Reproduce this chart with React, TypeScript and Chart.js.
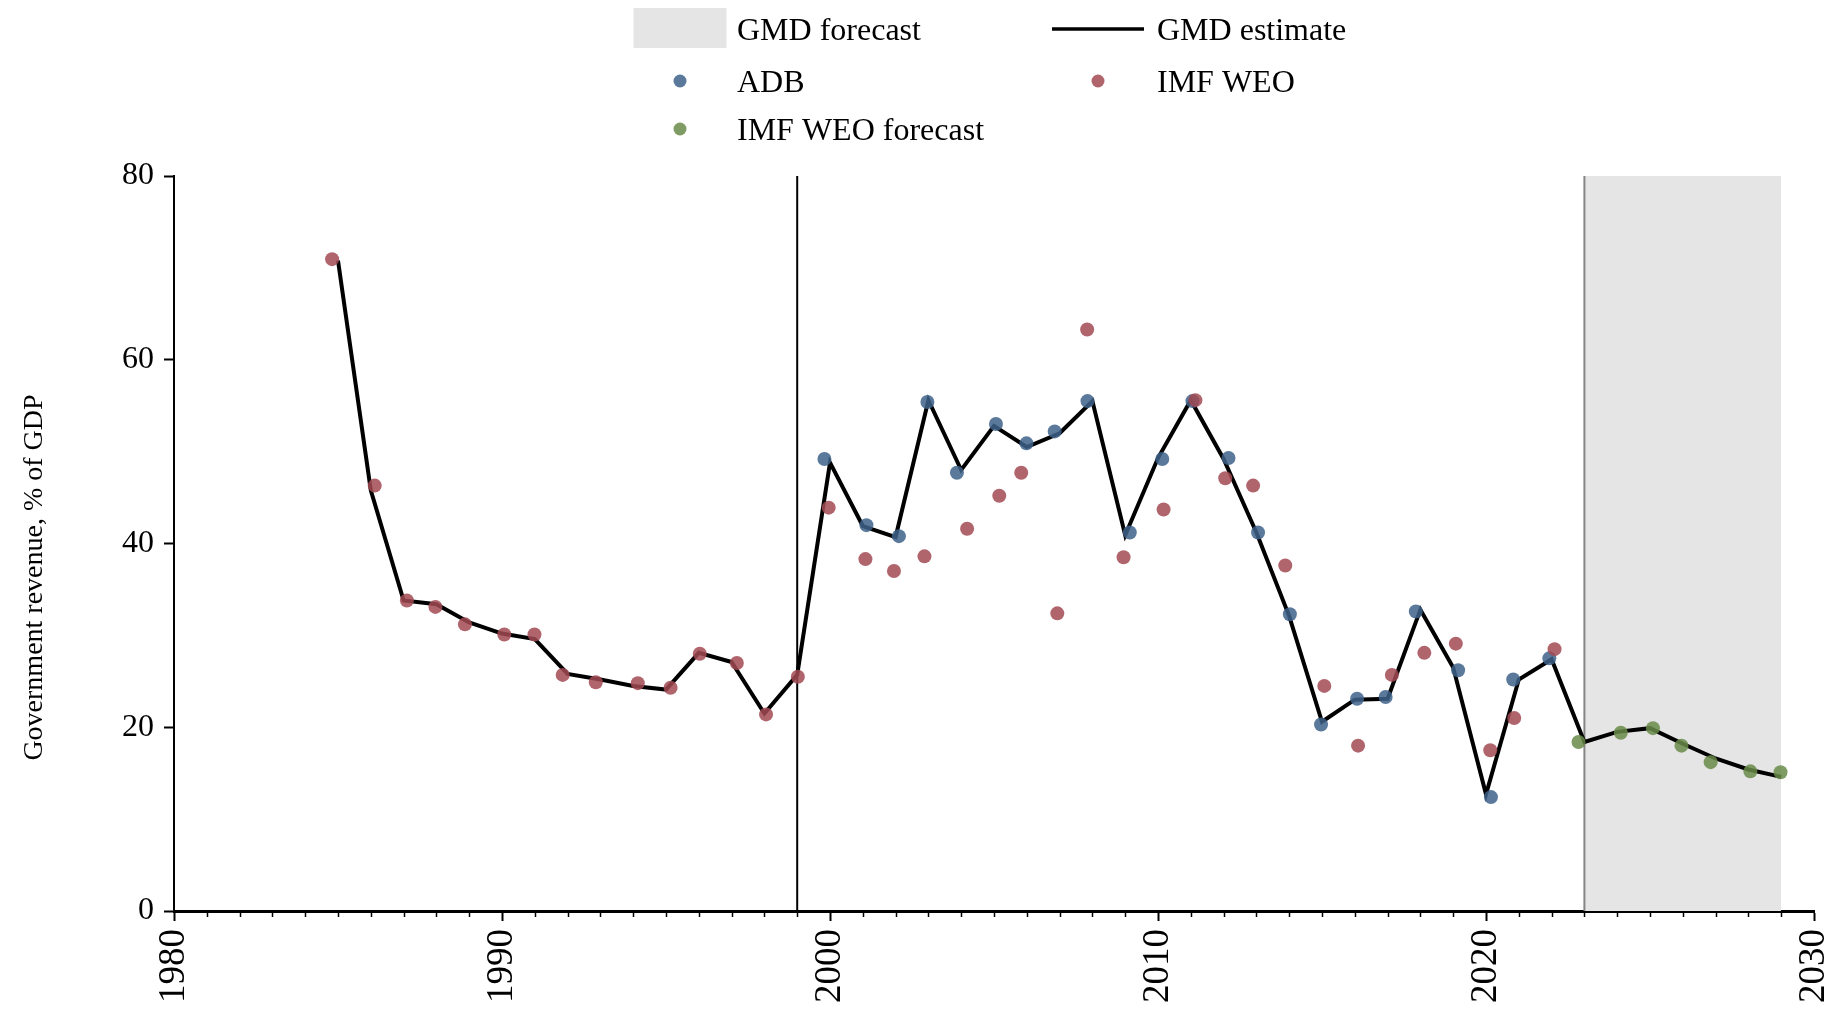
import React, { useEffect, useRef } from "react";
import { Chart, registerables } from "chart.js";

Chart.register(...registerables);

const FONT = "'Liberation Serif', serif";

// ---- Data ----
const gmdYears = [
  1985, 1986, 1987, 1988, 1989, 1990, 1991, 1992, 1993, 1994, 1995, 1996, 1997, 1998, 1999,
  2000, 2001, 2002, 2003, 2004, 2005, 2006, 2007, 2008, 2009, 2010, 2011, 2012, 2013, 2014,
  2015, 2016, 2017, 2018, 2019, 2020, 2021, 2022, 2023, 2024, 2025, 2026, 2027, 2028, 2029,
];
const gmdEstimate = [
  70.8, 45.8, 33.8, 33.4, 31.4, 30.2, 29.6, 25.8, 25.2, 24.5, 24.1, 28.1, 27.1, 21.5, 25.7,
  48.8, 41.9, 40.7, 55.6, 48.0, 52.8, 50.5, 52.0, 55.5, 40.9, 49.3, 55.6, 49.2, 41.2, 32.1,
  20.6, 23.0, 23.1, 32.8, 26.5, 12.7, 25.2, 27.4, 18.4, 19.5, 19.9, 18.2, 16.6, 15.4, 14.6,
];

const adbYears = [
  1999.83, 2001.11, 2002.1, 2002.97, 2003.87, 2005.06, 2005.99, 2006.85, 2007.85, 2009.14,
  2010.13, 2011.05, 2012.15, 2013.05, 2014.02, 2014.97, 2016.07, 2016.94, 2017.86, 2019.15,
  2020.15, 2020.83, 2021.93,
];
const adbValues = [
  49.2, 42.0, 40.8, 55.4, 47.7, 53.0, 50.9, 52.2, 55.5, 41.2,
  49.2, 55.5, 49.3, 41.2, 32.3, 20.3, 23.1, 23.3, 32.6, 26.2,
  12.4, 25.2, 27.5,
];

const imfYears = [
  1984.82, 1986.12, 1987.1, 1987.97, 1988.87, 1990.07, 1990.99, 1991.85, 1992.86, 1994.14,
  1995.14, 1996.03, 1997.16, 1998.05, 1999.02, 1999.96, 2001.08, 2001.95, 2002.88, 2004.18,
  2005.16, 2005.83, 2006.93, 2007.84, 2008.95, 2010.17, 2011.14, 2012.05, 2012.9, 2013.88,
  2015.07, 2016.1, 2017.13, 2018.12, 2019.08, 2020.13, 2020.86, 2022.09,
];
const imfValues = [
  70.95, 46.3, 33.8, 33.1, 31.2, 30.1, 30.1, 25.7, 24.9, 24.8,
  24.3, 28.0, 27.0, 21.4, 25.5, 43.9, 38.3, 37.0, 38.6, 41.6,
  45.2, 47.7, 32.4, 63.3, 38.5, 43.7, 55.6, 47.1, 46.3, 37.6,
  24.5, 18.0, 25.7, 28.1, 29.1, 17.5, 21.0, 28.5,
];

const imfForecastYears = [2022.82, 2024.11, 2025.09, 2025.96, 2026.85, 2028.06, 2028.98];
const imfForecastValues = [18.4, 19.4, 19.9, 18.0, 16.2, 15.2, 15.1];

const splitYear = 1999;
const forecastStart = 2023;
const forecastEnd = 2029;

const xMin = 1980;
const xMax = 2030;
const xStep = 10;
const yMin = 0;
const yMax = 80;
const yStep = 20;

const yTitle = "Government revenue, % of GDP";

const COLOR_ADB = "rgba(61,98,137,0.85)";
const COLOR_IMF = "rgba(162,74,84,0.85)";
const COLOR_IMF_FC = "rgba(104,139,73,0.85)";
const COLOR_BAND = "#E5E5E5";

const pts = (xs: number[], ys: number[]) => xs.map((x, i) => ({ x, y: ys[i] }));

// legend layout: [datasetIndex, kind, symbolCenterX, rowCenterY, textX, baselineY]
const LEGEND_LAYOUT: [number, string, number, number, number, number][] = [
  [0, "rect", 680, 28, 737, 40],
  [3, "line", 1098, 29, 1157, 40],
  [4, "dot", 680, 81, 737, 92],
  [5, "dot", 1098, 81, 1157, 92],
  [6, "dot", 680, 129, 737, 140],
];

const legendPlugin = {
  id: "customLegend",
  afterDraw(chart: any) {
    const ctx = chart.ctx as CanvasRenderingContext2D;
    ctx.save();
    for (const [dsi, kind, cx, cy, tx, by] of LEGEND_LAYOUT) {
      const ds = chart.data.datasets[dsi];
      if (kind === "rect") {
        ctx.fillStyle = ds.backgroundColor;
        ctx.fillRect(cx - 46.5, cy - 20, 93, 40);
      } else if (kind === "line") {
        ctx.strokeStyle = ds.borderColor;
        ctx.lineWidth = 3.5;
        ctx.beginPath();
        ctx.moveTo(cx - 46, cy);
        ctx.lineTo(cx + 46, cy);
        ctx.stroke();
      } else {
        ctx.fillStyle = ds.backgroundColor;
        ctx.beginPath();
        ctx.arc(cx, cy, 6.5, 0, Math.PI * 2);
        ctx.fill();
      }
      ctx.fillStyle = "#000";
      ctx.font = `32px ${FONT}`;
      ctx.textAlign = "left";
      ctx.textBaseline = "alphabetic";
      ctx.fillText(ds.label, tx, by);
    }
    ctx.restore();
  },
};

const axisTitlePlugin = {
  id: "yAxisTitle",
  afterDraw(chart: any) {
    const ctx = chart.ctx as CanvasRenderingContext2D;
    const area = chart.chartArea;
    ctx.save();
    ctx.translate(35, (area.top + area.bottom) / 2 + 34);
    ctx.rotate(-Math.PI / 2);
    ctx.fillStyle = "#000";
    ctx.font = `28px ${FONT}`;
    ctx.textAlign = "center";
    ctx.textBaseline = "middle";
    ctx.fillText(yTitle, 0, 0);
    ctx.restore();
  },
};

const minorTickPlugin = {
  id: "minorTicks",
  afterDraw(chart: any) {
    const xs = chart.scales.x;
    const ctx = chart.ctx as CanvasRenderingContext2D;
    const bottom = chart.chartArea.bottom;
    ctx.save();
    ctx.strokeStyle = "#000";
    ctx.lineWidth = 1.5;
    for (let v = xMin; v <= xMax; v++) {
      if ((v - xMin) % xStep === 0) continue;
      const px = Math.round(xs.getPixelForValue(v)) + 0.5;
      ctx.beginPath();
      ctx.moveTo(px, bottom);
      ctx.lineTo(px, bottom + 6);
      ctx.stroke();
    }
    ctx.restore();
  },
};

export default function App() {
  const ref = useRef<HTMLCanvasElement>(null);

  useEffect(() => {
    document.body.style.margin = "0";
    document.body.style.background = "#fff";
    Chart.defaults.font.family = FONT;
    const chart = new Chart(ref.current as HTMLCanvasElement, {
      type: "line",
      data: {
        datasets: [
          {
            label: "GMD forecast",
            data: [
              { x: forecastStart, y: yMax },
              { x: forecastEnd, y: yMax },
            ],
            backgroundColor: COLOR_BAND,
            borderColor: "rgba(0,0,0,0)",
            borderWidth: 0,
            pointRadius: 0,
            fill: "origin",
            order: 10,
          },
          {
            label: "forecast start",
            data: [
              { x: forecastStart, y: yMin },
              { x: forecastStart, y: yMax },
            ],
            borderColor: "#858585",
            borderWidth: 2,
            pointRadius: 0,
            fill: false,
            order: 9,
          },
          {
            label: "split",
            data: [
              { x: splitYear, y: yMin },
              { x: splitYear, y: yMax },
            ],
            borderColor: "#000",
            borderWidth: 2,
            pointRadius: 0,
            fill: false,
            order: 8,
          },
          {
            label: "GMD estimate",
            data: pts(gmdYears, gmdEstimate),
            borderColor: "#000",
            borderWidth: 4,
            pointRadius: 0,
            fill: false,
            tension: 0,
            order: 5,
          },
          {
            label: "ADB",
            data: pts(adbYears, adbValues),
            showLine: false,
            backgroundColor: COLOR_ADB,
            borderColor: COLOR_ADB,
            pointBackgroundColor: COLOR_ADB,
            pointBorderWidth: 0,
            pointRadius: 7,
            order: 2,
          },
          {
            label: "IMF WEO",
            data: pts(imfYears, imfValues),
            showLine: false,
            backgroundColor: COLOR_IMF,
            borderColor: COLOR_IMF,
            pointBackgroundColor: COLOR_IMF,
            pointBorderWidth: 0,
            pointRadius: 7,
            order: 1,
          },
          {
            label: "IMF WEO forecast",
            data: pts(imfForecastYears, imfForecastValues),
            showLine: false,
            backgroundColor: COLOR_IMF_FC,
            borderColor: COLOR_IMF_FC,
            pointBackgroundColor: COLOR_IMF_FC,
            pointBorderWidth: 0,
            pointRadius: 7,
            order: 0,
          },
        ],
      } as any,
      options: {
        animation: false,
        responsive: false,
        devicePixelRatio: 1,
        events: [],
        layout: { padding: { top: 176, right: 26, left: 0, bottom: 0 } },
        plugins: {
          legend: { display: false },
          tooltip: { enabled: false },
        },
        scales: {
          x: {
            type: "linear",
            min: xMin,
            max: xMax,
            afterFit(scale: any) {
              scale.height = 108;
              scale.paddingLeft = 0;
              scale.paddingRight = 0;
            },
            border: { display: true, color: "#000", width: 3 },
            grid: {
              display: true,
              drawOnChartArea: false,
              drawTicks: true,
              tickLength: 10,
              tickWidth: 2,
              tickColor: "#000",
            },
            ticks: {
              stepSize: xStep,
              autoSkip: false,
              maxRotation: 90,
              minRotation: 90,
              padding: 8,
              color: "#000",
              font: { size: 37, family: FONT },
              callback: (v: any) => String(v),
            },
          },
          y: {
            type: "linear",
            min: yMin,
            max: yMax,
            afterFit(scale: any) {
              scale.width = 174;
            },
            border: { display: true, color: "#000", width: 2 },
            grid: {
              display: true,
              drawOnChartArea: false,
              drawTicks: true,
              tickLength: 10,
              tickWidth: 2,
              tickColor: "#000",
            },
            ticks: {
              stepSize: yStep,
              padding: 10,
              color: "#000",
              font: { size: 32, family: FONT },
              callback: (v: any) => String(v),
            },
            title: { display: false },
          },
        },
      } as any,
      plugins: [legendPlugin, axisTitlePlugin, minorTickPlugin],
    });
    return () => chart.destroy();
  }, []);

  return (
    <div style={{ width: 1840, height: 1019, background: "#fff" }}>
      <canvas ref={ref} width={1840} height={1019} style={{ display: "block" }} />
    </div>
  );
}
